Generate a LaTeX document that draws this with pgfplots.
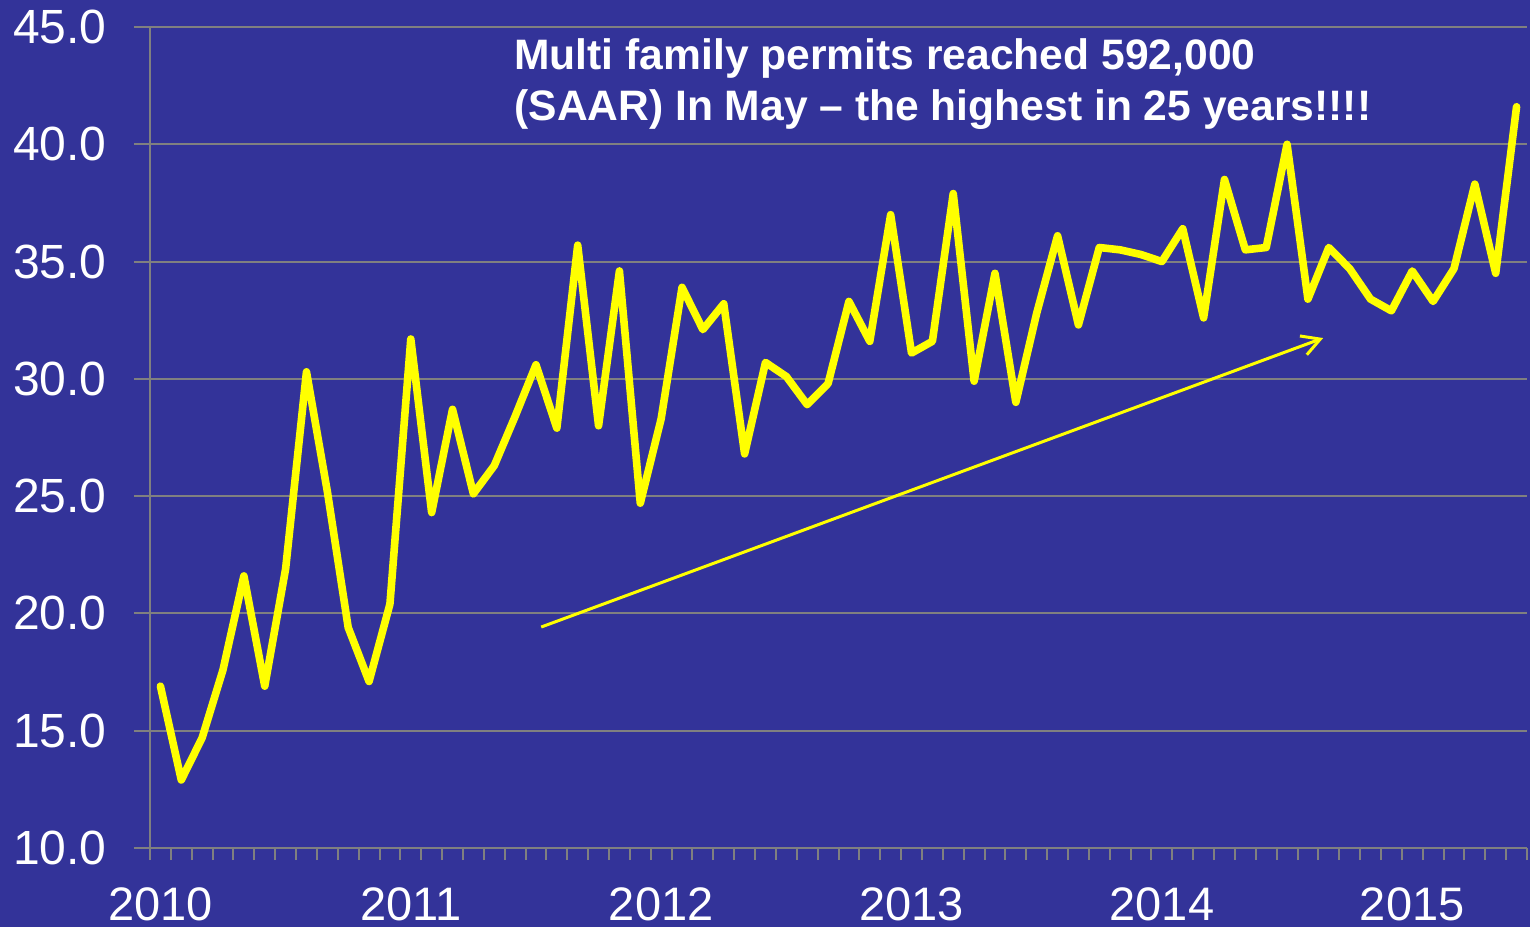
\documentclass[border=0pt]{standalone}
\usepackage{fontspec}
\setmainfont{Liberation Sans}
\usepackage{pgfplots}
\usepackage{pgfplotstable}
\pgfplotsset{compat=1.18}
\usetikzlibrary{arrows.meta}
\definecolor{bg}{RGB}{51,51,153}
\definecolor{gridgray}{RGB}{128,128,128}
\definecolor{yel}{RGB}{255,255,0}

\pgfplotstableread{
i v
0 16.9
1 12.9
2 14.7
3 17.6
4 21.6
5 16.9
6 21.9
7 30.3
8 25.2
9 19.4
10 17.1
11 20.4
12 31.7
13 24.3
14 28.7
15 25.1
16 26.3
17 28.4
18 30.6
19 27.9
20 35.7
21 28.0
22 34.6
23 24.7
24 28.3
25 33.9
26 32.1
27 33.2
28 26.8
29 30.7
30 30.1
31 28.9
32 29.8
33 33.3
34 31.6
35 37.0
36 31.1
37 31.6
38 37.9
39 29.9
40 34.5
41 29.0
42 32.8
43 36.1
44 32.3
45 35.6
46 35.5
47 35.3
48 35.0
49 36.4
50 32.6
51 38.5
52 35.5
53 35.6
54 40.0
55 33.4
56 35.6
57 34.7
58 33.4
59 32.9
60 34.6
61 33.3
62 34.7
63 38.3
64 34.5
65 41.6
}\permits

\begin{document}
\begin{tikzpicture}
\fill[bg] (0,0) rectangle (765pt,463.5pt);
\path[use as bounding box] (0,0) rectangle (765pt,463.5pt);
\begin{axis}[
  at={(75pt,39.5pt)}, anchor=south west,
  scale only axis, width=688.5pt, height=410.5pt,
  xmin=-0.5, xmax=65.5, ymin=10, ymax=45,
  axis x line*=bottom, axis y line*=left,
  axis line style={gridgray, line width=1pt},
  xtick={0,12,24,36,48,60},
  xticklabels={2010,2011,2012,2013,2014,2015},
  minor xtick={-0.5,0.5,...,65.5},
  ytick={10,15,...,45},
  ymajorgrids, grid style={gridgray, line width=1pt},
  tick align=outside,
  major tick length=8pt, minor tick length=6pt,
  major x tick style={draw=none},
  minor x tick style={gridgray, line width=1pt},
  major y tick style={gridgray, line width=1pt},
  /pgf/number format/assume math mode=true,
  yticklabel={\pgfmathprintnumber[fixed,fixed zerofill,precision=1]{\tick}},
  yticklabel style={font=\fontsize{24}{24}\selectfont, text=white, anchor=east, inner sep=0pt, xshift=-13.5pt},
  xticklabel style={font=\fontsize{23.5}{23.5}\selectfont, text=white, anchor=north, inner sep=0pt, yshift=-11.5pt},
  clip=false,
]
\addplot[yel, line width=3.8pt, line join=round, line cap=round] table[x=i, y=v] {\permits};
\draw[yel, line width=1.5pt, -{Straight Barb[length=9pt,width=10pt]}] (axis cs:18.25,19.42) -- (axis cs:55.73,31.74);
\end{axis}
\node[anchor=base west, inner sep=0pt, text=white, font=\fontsize{21.3}{21.3}\selectfont\bfseries] at (257pt,428.5pt) {Multi family permits reached 592,000};
\node[anchor=base west, inner sep=0pt, text=white, font=\fontsize{21.3}{21.3}\selectfont\bfseries] at (257pt,403.2pt) {(SAAR) In May -- the highest in 25 years!!!!};
\end{tikzpicture}
\end{document}
